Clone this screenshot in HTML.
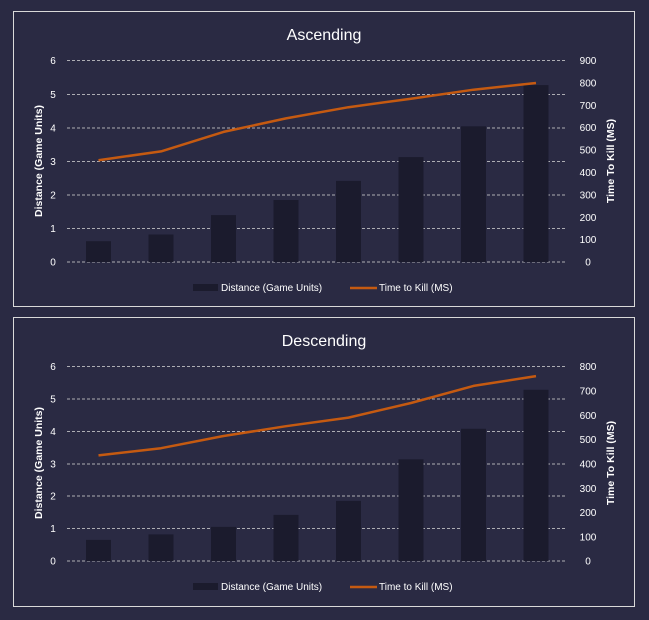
<!DOCTYPE html>
<html><head><meta charset="utf-8"><style>
html,body{margin:0;padding:0;background:#2a2a43;}
svg{display:block;font-family:"Liberation Sans",sans-serif;}
</style></head><body>
<svg width="649" height="620" viewBox="0 0 649 620" xmlns="http://www.w3.org/2000/svg">
<rect width="649" height="620" fill="#2a2a43"/>
<!-- TOP -->
<rect x="13.5" y="11.5" width="621" height="295" fill="none" stroke="#d9d9d9" stroke-width="1"/>
<text x="324" y="40" fill="#fff" font-size="16" text-anchor="middle">Ascending</text>
<g stroke="#d9d9d9" stroke-width="0.8" stroke-dasharray="3,2">
<line x1="67" x2="566" y1="60.5" y2="60.5"/><line x1="67" x2="566" y1="94.5" y2="94.5"/><line x1="67" x2="566" y1="128" y2="128"/><line x1="67" x2="566" y1="161.5" y2="161.5"/><line x1="67" x2="566" y1="195" y2="195"/><line x1="67" x2="566" y1="228.5" y2="228.5"/><line x1="67" x2="566" y1="262" y2="262"/>
</g>
<g fill="#1b1b2d">
<rect x="86" y="241.2" width="25" height="20.8"/><rect x="148.5" y="234.5" width="25" height="27.5"/><rect x="211" y="215.1" width="25" height="46.9"/><rect x="273.5" y="200" width="25" height="62"/><rect x="336" y="180.9" width="25" height="81.1"/><rect x="398.5" y="157.1" width="25" height="104.9"/><rect x="461" y="126.3" width="25" height="135.7"/><rect x="523.5" y="85.1" width="25" height="176.9"/>
</g>
<polyline fill="none" stroke="#c55a11" stroke-width="2.5" stroke-linejoin="round" points="98.5,160.2 161,151.4 223.5,131.9 286,118.4 348.5,107.2 411,98.7 473.5,89.7 536,83"/>
<g fill="#fff" font-size="10" text-anchor="middle">
<text x="53" y="64">6</text><text x="53" y="98">5</text><text x="53" y="131.5">4</text><text x="53" y="165">3</text><text x="53" y="198.5">2</text><text x="53" y="232">1</text><text x="53" y="265.5">0</text>
</g>
<g fill="#fff" font-size="10" text-anchor="middle">
<text x="588" y="64">900</text><text x="588" y="86.5">800</text><text x="588" y="109">700</text><text x="588" y="131">600</text><text x="588" y="153.5">500</text><text x="588" y="176">400</text><text x="588" y="198.5">300</text><text x="588" y="221">200</text><text x="588" y="243">100</text><text x="588" y="265.5">0</text>
</g>
<text transform="translate(42,161) rotate(-90)" fill="#fff" font-size="10.5" font-weight="bold" text-anchor="middle">Distance (Game Units)</text>
<text transform="translate(614,161) rotate(-90)" fill="#fff" font-size="10.5" font-weight="bold" text-anchor="middle">Time To Kill (MS)</text>
<rect x="193" y="284" width="25" height="7" fill="#1b1b2d"/>
<text x="221" y="291" fill="#fff" font-size="10">Distance (Game Units)</text>
<line x1="350" x2="377" y1="288" y2="288" stroke="#c55a11" stroke-width="2.5"/>
<text x="379" y="291" fill="#fff" font-size="10">Time to Kill (MS)</text>

<!-- BOTTOM -->
<rect x="13.5" y="317.5" width="621" height="289" fill="none" stroke="#d9d9d9" stroke-width="1"/>
<text x="324" y="346" fill="#fff" font-size="16" text-anchor="middle">Descending</text>
<g stroke="#d9d9d9" stroke-width="0.8" stroke-dasharray="3,2">
<line x1="67" x2="566" y1="366.5" y2="366.5"/><line x1="67" x2="566" y1="399" y2="399"/><line x1="67" x2="566" y1="431.5" y2="431.5"/><line x1="67" x2="566" y1="464" y2="464"/><line x1="67" x2="566" y1="496" y2="496"/><line x1="67" x2="566" y1="528.5" y2="528.5"/><line x1="67" x2="566" y1="561" y2="561"/>
</g>
<g fill="#1b1b2d">
<rect x="86" y="539.9" width="25" height="21.1"/><rect x="148.5" y="534.4" width="25" height="26.6"/><rect x="211" y="526.9" width="25" height="34.1"/><rect x="273.5" y="514.9" width="25" height="46.1"/><rect x="336" y="500.9" width="25" height="60.1"/><rect x="398.5" y="459.3" width="25" height="101.7"/><rect x="461" y="428.8" width="25" height="132.2"/><rect x="523.5" y="389.8" width="25" height="171.2"/>
</g>
<polyline fill="none" stroke="#c55a11" stroke-width="2.5" stroke-linejoin="round" points="98.5,455.4 161,448.2 223.5,436 286,426.2 348.5,417.6 411,403 473.5,385.9 536,376.1"/>
<g fill="#fff" font-size="10" text-anchor="middle">
<text x="53" y="370">6</text><text x="53" y="402.5">5</text><text x="53" y="435">4</text><text x="53" y="467.5">3</text><text x="53" y="499.5">2</text><text x="53" y="532">1</text><text x="53" y="564.5">0</text>
</g>
<g fill="#fff" font-size="10" text-anchor="middle">
<text x="588" y="370">800</text><text x="588" y="394.5">700</text><text x="588" y="419">600</text><text x="588" y="443">500</text><text x="588" y="467.5">400</text><text x="588" y="492">300</text><text x="588" y="516">200</text><text x="588" y="540.5">100</text><text x="588" y="564.5">0</text>
</g>
<text transform="translate(42,463) rotate(-90)" fill="#fff" font-size="10.5" font-weight="bold" text-anchor="middle">Distance (Game Units)</text>
<text transform="translate(614,463) rotate(-90)" fill="#fff" font-size="10.5" font-weight="bold" text-anchor="middle">Time To Kill (MS)</text>
<rect x="193" y="583" width="25" height="7" fill="#1b1b2d"/>
<text x="221" y="590" fill="#fff" font-size="10">Distance (Game Units)</text>
<line x1="350" x2="377" y1="587" y2="587" stroke="#c55a11" stroke-width="2.5"/>
<text x="379" y="590" fill="#fff" font-size="10">Time to Kill (MS)</text>
</svg>
</body></html>
